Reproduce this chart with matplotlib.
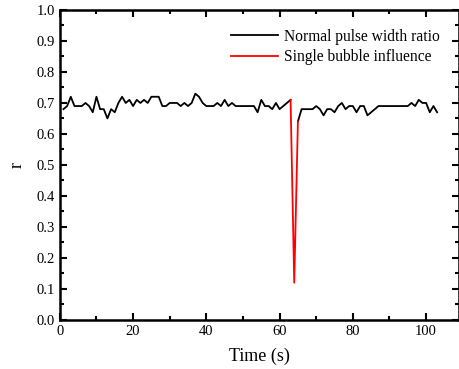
import matplotlib
matplotlib.use("Agg")
import matplotlib.pyplot as plt
from matplotlib.ticker import MultipleLocator

plt.rcParams['font.family'] = ['Liberation Serif', 'DejaVu Serif']
plt.rcParams['mathtext.fontset'] = 'stix'

##### data #####
t_normal_a = list(range(1, 64))
r_normal_a = [0.68, 0.69, 0.72, 0.69, 0.69, 0.69, 0.70, 0.69, 0.67, 0.72,
              0.68, 0.68, 0.65, 0.68, 0.67, 0.70, 0.72, 0.70, 0.71, 0.69,
              0.71, 0.70, 0.71, 0.70, 0.72, 0.72, 0.72, 0.69, 0.69, 0.70,
              0.70, 0.70, 0.69, 0.70, 0.69, 0.70, 0.73, 0.72, 0.70, 0.69,
              0.69, 0.69, 0.70, 0.69, 0.71, 0.69, 0.70, 0.69, 0.69, 0.69,
              0.69, 0.69, 0.69, 0.67, 0.71, 0.69, 0.69, 0.68, 0.70, 0.68,
              0.69, 0.70, 0.71]
t_bubble = [63, 64, 65]
r_bubble = [0.71, 0.12, 0.64]
t_normal_b = list(range(65, 104))
r_normal_b = [0.64, 0.68, 0.68, 0.68, 0.68, 0.69, 0.68, 0.66, 0.68, 0.68,
              0.67, 0.69, 0.70, 0.68, 0.69, 0.69, 0.67, 0.69, 0.69, 0.66,
              0.67, 0.68, 0.69, 0.69, 0.69, 0.69, 0.69, 0.69, 0.69, 0.69,
              0.69, 0.70, 0.69, 0.71, 0.70, 0.70, 0.67, 0.69, 0.67]

##### plot #####
fig = plt.figure(figsize=(4.6, 3.69), dpi=100)
ax = fig.add_axes([0.130, 0.133, 0.868, 0.840])

ax.plot(t_normal_a, r_normal_a, color='black', linewidth=1.3, label='Normal pulse width ratio')
ax.plot(t_normal_b, r_normal_b, color='black', linewidth=1.3)
ax.plot(t_bubble, r_bubble, color='red', linewidth=1.3, label='Single bubble influence')

ax.set_xlim(0, 109)
ax.set_ylim(0, 1.0)
ax.xaxis.set_major_locator(MultipleLocator(20))
ax.xaxis.set_minor_locator(MultipleLocator(10))
ax.yaxis.set_major_locator(MultipleLocator(0.1))
ax.yaxis.set_minor_locator(MultipleLocator(0.05))
ax.yaxis.set_major_formatter(matplotlib.ticker.FormatStrFormatter('%.1f'))

ax.tick_params(which='both', direction='in', top=True, right=True,
               width=1.5, labelsize=10.5)
ax.tick_params(which='major', length=5)
ax.tick_params(which='minor', length=3)
for s in ax.spines.values():
    s.set_linewidth(1.8)

ax.set_xlabel('Time (s)', fontsize=13, labelpad=7)
ax.set_ylabel('r', fontsize=13, labelpad=8)

ax.legend(loc='upper right', bbox_to_anchor=(0.975, 0.97), frameon=False,
          fontsize=11.2, handlelength=3.0, handletextpad=0.4,
          labelspacing=0.3, borderaxespad=0.2)

fig.savefig('out.png', dpi=100)
